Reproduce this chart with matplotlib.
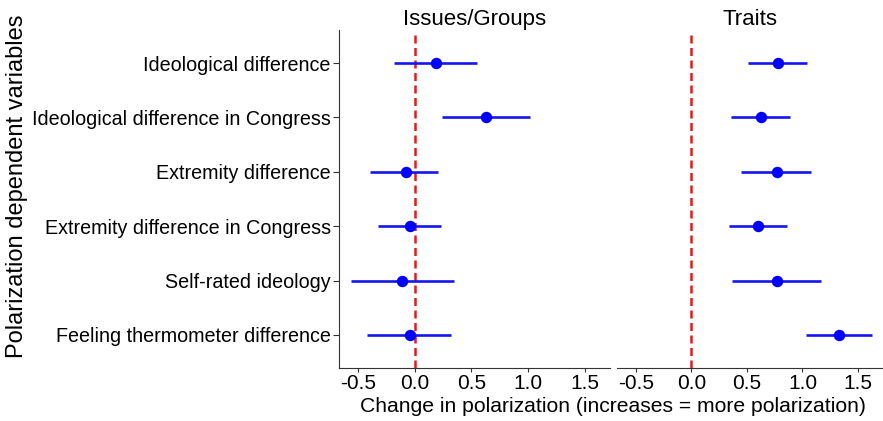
import matplotlib.pyplot as plt

plt.rcParams['font.family'] = ['Liberation Sans', 'DejaVu Sans']

variables = [
    "Ideological difference",
    "Ideological difference in Congress",
    "Extremity difference",
    "Extremity difference in Congress",
    "Self-rated ideology",
    "Feeling thermometer difference",
]
panels = ["Issues/Groups", "Traits"]

# point estimates and interval ends, top row first
issues_est = [0.19, 0.63, -0.08, -0.04, -0.11, -0.04]
issues_lo = [-0.18, 0.24, -0.39, -0.32, -0.565, -0.42]
issues_hi = [0.55, 1.02, 0.21, 0.235, 0.35, 0.32]

traits_est = [0.78, 0.63, 0.77, 0.60, 0.77, 1.33]
traits_lo = [0.51, 0.36, 0.45, 0.335, 0.37, 1.03]
traits_hi = [1.045, 0.89, 1.075, 0.865, 1.165, 1.625]

xticks = [-0.5, 0.0, 0.5, 1.0, 1.5]

W, H = 883, 421
fig = plt.figure(figsize=(W / 100, H / 100), dpi=100)
ax1 = fig.add_axes([339 / W, 1 - 367.5 / H, (610 - 339) / W, (367.5 - 30.5) / H])
ax2 = fig.add_axes([617 / W, 1 - 367.5 / H, (883 - 617) / W, (367.5 - 30.5) / H])

ypos = list(range(len(variables), 0, -1))
data = [(issues_est, issues_lo, issues_hi), (traits_est, traits_lo, traits_hi)]

for ax, title, (est, lo, hi) in zip([ax1, ax2], panels, data):
    ax.axvline(0, color="#e41a1c", linestyle=(0, (3.2, 1.8)), linewidth=1.8, zorder=1)
    ax.hlines(ypos, lo, hi, color="#1515ee", linewidth=1.9, zorder=2)
    ax.scatter(est, ypos, s=52, color="#0000ff", zorder=3)
    ax.set_xlim(-0.668, 1.724)
    ax.set_ylim(0.4, 6.6)
    ax.set_xticks(xticks)
    ax.set_xticklabels(["-0.5", "0.0", "0.5", "1.0", "1.5"])
    ax.set_title(title, fontsize=16, pad=4)
    for s in ["top", "right"]:
        ax.spines[s].set_visible(False)
    ax.spines["bottom"].set_color("#333333")
    ax.spines["left"].set_color("#333333")
    ax.tick_params(axis="x", labelsize=15, color="#333333", length=3, pad=2)

ax1.set_yticks(ypos)
ax1.set_yticklabels(variables)
ax1.tick_params(axis="y", labelsize=14.2, color="#333333", length=4, pad=2)

ax2.spines["left"].set_visible(False)
ax2.set_yticks([])

fig.text(17 / W, 1 - 186 / H, "Polarization dependent variables",
         rotation=90, ha="center", va="center", fontsize=17)
fig.text(613 / W, 1 - 406 / H,
         "Change in polarization (increases = more polarization)",
         ha="center", va="center", fontsize=15.2)

fig.savefig("out.png", dpi=100)
